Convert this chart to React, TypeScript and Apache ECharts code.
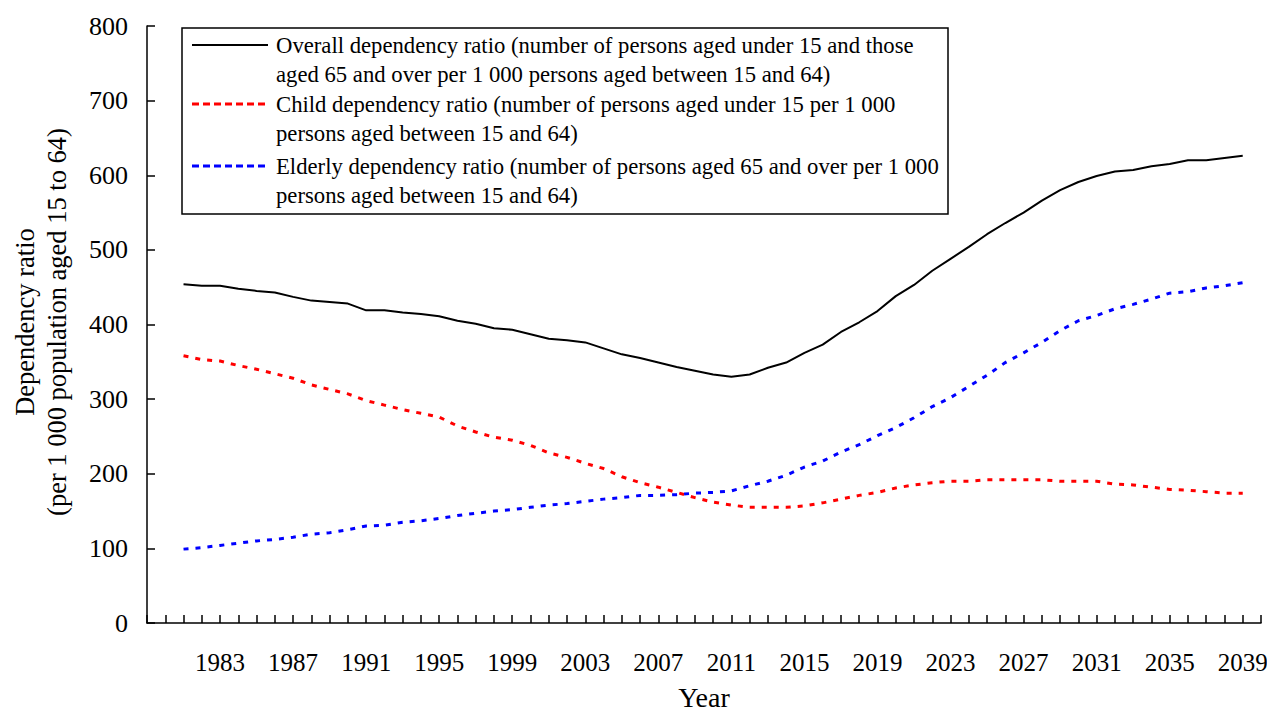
import React, { useEffect, useRef } from "react";
import * as echarts from "echarts";

const years: number[] = [];
for (let y = 1981; y <= 2039; y++) years.push(y);

const overall = [
  454, 452, 452, 448, 445, 443, 437, 432, 430, 428,
  419, 419, 416, 414, 411, 405, 401, 395, 393, 387,
  381, 379, 376, 368, 360, 355, 349, 343, 338, 333,
  330, 333, 342, 349, 362, 373, 390, 403, 418, 438,
  453, 472, 488, 504, 521, 536, 550, 566, 580, 591,
  599, 605, 607, 612, 615, 620, 620, 623, 626,
];

const child = [
  358, 353, 351, 345, 340, 334, 328, 319, 313, 307,
  298, 292, 286, 281, 276, 264, 256, 249, 245, 238,
  228, 222, 214, 207, 196, 188, 182, 175, 168, 162,
  158, 155, 155, 155, 157, 161, 166, 171, 175, 181,
  185, 188, 190, 190, 192, 192, 192, 192, 190, 190,
  190, 186, 185, 182, 179, 178, 176, 174, 174,
];

const elderly = [
  99, 101, 104, 107, 110, 112, 115, 119, 121, 125,
  130, 131, 135, 137, 140, 144, 147, 150, 152, 155,
  158, 160, 163, 166, 168, 171, 171, 172, 174, 175,
  177, 184, 190, 198, 209, 217, 229, 239, 251, 262,
  275, 290, 302, 317, 332, 349, 362, 376, 392, 405,
  412, 421, 427, 434, 442, 444, 449, 452, 456,
];

const seriesNames = [
  "Overall dependency ratio (number of persons aged under 15 and those\naged 65 and over per 1 000 persons aged between 15 and 64)",
  "Child dependency ratio (number of persons aged under 15 per 1 000\npersons aged between 15 and 64)",
  "Elderly dependency ratio (number of persons aged 65 and over per 1 000\npersons aged between 15 and 64)",
];

const FONT = "'Liberation Serif', 'Times New Roman', serif";

export default function App() {
  const ref = useRef<HTMLDivElement>(null);
  useEffect(() => {
    if (!ref.current) return;
    const chart = echarts.init(ref.current, null, { renderer: "svg" });
    const pair = (arr: number[]) => years.map((y, i) => [y, arr[i]]);

    const legendY = [45, 104, 166];
    const colors = ["#000000", "#ff0000", "#0000ff"];
    const legendGraphics: any[] = [
      {
        type: "rect",
        shape: { x: 182, y: 28, width: 766, height: 186 },
        style: { fill: "#fff", stroke: "#000", lineWidth: 1.5 },
        z: 10,
      },
    ];
    seriesNames.forEach((name, i) => {
      legendGraphics.push({
        type: "line",
        shape: { x1: 192, y1: legendY[i], x2: 268, y2: legendY[i] },
        style: {
          stroke: colors[i],
          lineWidth: i === 0 ? 2 : 3,
          lineDash: i === 0 ? null : [7, 4],
        },
        z: 11,
      });
      const lines = name.split("\n");
      lines.forEach((ln, j) => {
        legendGraphics.push({
          type: "text",
          x: 276,
          y: legendY[i] + j * 29,
          style: {
            text: ln,
            font: `22.7px ${FONT}`,
            fill: "#000",
            align: "left",
            verticalAlign: "middle",
          },
          z: 11,
        });
      });
    });

    chart.setOption({
      animation: false,
      backgroundColor: "#fff",
      textStyle: { fontFamily: FONT },
      grid: {
        left: 147,
        right: 6,
        top: 26,
        bottom: 90,
        containLabel: false,
        outerBoundsMode: "none",
      },
      xAxis: {
        type: "value",
        min: 1979,
        max: 2040,
        interval: 1,
        name: "Year",
        nameLocation: "middle",
        nameGap: 60,
        nameTextStyle: { fontSize: 28, color: "#000", fontFamily: FONT },
        axisLine: { show: true, onZero: false, lineStyle: { color: "#000", width: 1.5 } },
        axisTick: { show: true, inside: true, length: 8, lineStyle: { color: "#000", width: 1.5 } },
        axisLabel: {
          color: "#000",
          fontSize: 25,
          fontFamily: FONT,
          margin: 27,
          formatter: (v: number) =>
            v >= 1983 && (v - 1983) % 4 === 0 ? String(v) : "",
        },
        splitLine: { show: false },
      },
      yAxis: {
        type: "value",
        min: 0,
        max: 800,
        interval: 100,
        axisLine: { show: true, lineStyle: { color: "#000", width: 1.5 } },
        axisTick: { show: true, inside: true, length: 8, lineStyle: { color: "#000", width: 1.5 } },
        axisLabel: { color: "#000", fontSize: 26, fontFamily: FONT, margin: 19 },
        splitLine: { show: false },
      },
      graphic: [
        {
          type: "text",
          x: 25,
          y: 322,
          rotation: Math.PI / 2,
          style: {
            text: "Dependency ratio",
            font: `26.5px ${FONT}`,
            fill: "#000",
            align: "center",
            verticalAlign: "middle",
          },
        },
        {
          type: "text",
          x: 57,
          y: 322,
          rotation: Math.PI / 2,
          style: {
            text: "(per 1 000 population aged 15 to 64)",
            font: `26.5px ${FONT}`,
            fill: "#000",
            align: "center",
            verticalAlign: "middle",
          },
        },
        ...legendGraphics,
      ],
      series: [
        {
          name: seriesNames[0],
          type: "line",
          data: pair(overall),
          showSymbol: false,
          lineStyle: { color: "#000", width: 2 },
        },
        {
          name: seriesNames[1],
          type: "line",
          data: pair(child),
          showSymbol: false,
          lineStyle: { color: "#ff0000", width: 3, type: [5, 7] },
        },
        {
          name: seriesNames[2],
          type: "line",
          data: pair(elderly),
          showSymbol: false,
          lineStyle: { color: "#0000ff", width: 3, type: [5, 7] },
        },
      ],
    });
    return () => chart.dispose();
  }, []);
  return (
    <div
      ref={ref}
      style={{ position: "fixed", left: 0, top: 0, width: 1267, height: 713 }}
    />
  );
}
